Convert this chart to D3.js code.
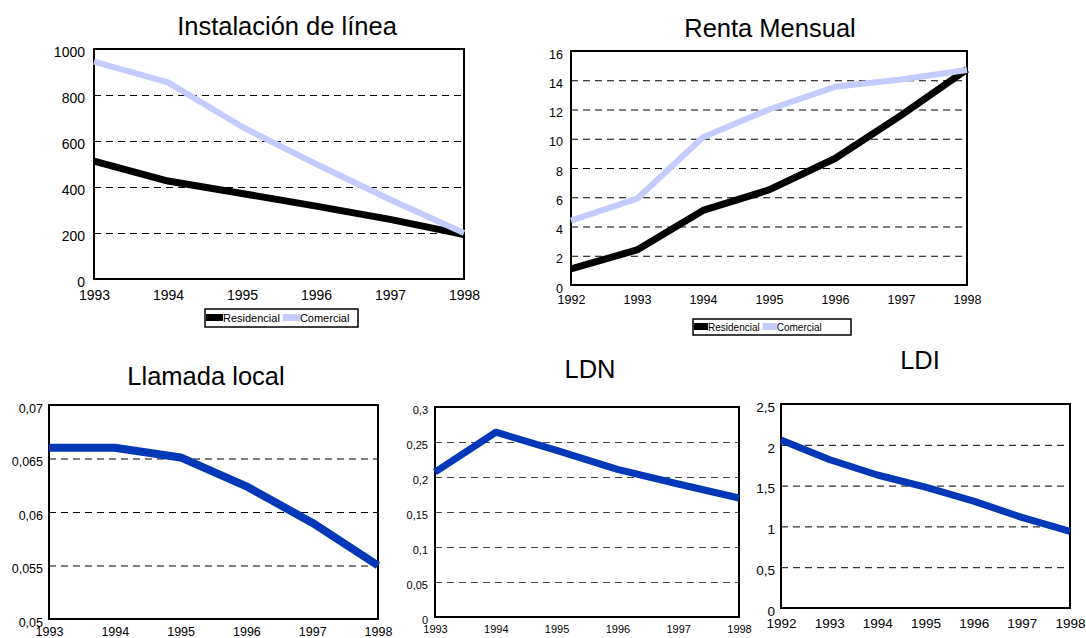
<!DOCTYPE html>
<html><head><meta charset="utf-8">
<script src="https://cdn.jsdelivr.net/npm/d3@7"></script>
<style>
html,body{margin:0;padding:0;background:#fff;}
svg{display:block;font-family:"Liberation Sans",Arial,sans-serif;}
</style></head>
<body>
<svg id="c" width="1086" height="638"></svg>
<script>
// ---- Data ----
const instYears = [1993, 1994, 1995, 1996, 1997, 1998];
const instResidencial = [513, 426, 372, 317, 259, 193];
const instComercial = [945, 855, 662, 500, 346, 200];
const instTicks = [0, 200, 400, 600, 800, 1000];

const rentaYears = [1992, 1993, 1994, 1995, 1996, 1997, 1998];
const rentaResidencial = [1.1, 2.4, 5.1, 6.5, 8.65, 11.6, 14.75];
const rentaComercial = [4.4, 5.9, 10.1, 12.0, 13.55, 14.05, 14.7];
const rentaTicks = [0, 2, 4, 6, 8, 10, 12, 14, 16];

const localYears = [1993, 1994, 1995, 1996, 1997, 1998];
const localValues = [0.066, 0.066, 0.0651, 0.0624, 0.059, 0.055];
const localTicks = [0.05, 0.055, 0.06, 0.065, 0.07];

const ldnYears = [1993, 1994, 1995, 1996, 1997, 1998];
const ldnValues = [0.207, 0.264, 0.238, 0.211, 0.19, 0.17];
const ldnTicks = [0, 0.05, 0.1, 0.15, 0.2, 0.25, 0.3];

const ldiYears = [1992, 1993, 1994, 1995, 1996, 1997, 1998];
const ldiValues = [2.06, 1.82, 1.63, 1.48, 1.31, 1.11, 0.94];
const ldiTicks = [0, 0.5, 1, 1.5, 2, 2.5];

const seriesNames = ["Residencial", "Comercial"];

// ---- Styles ----
const BLACK = "#000000", LAVENDER = "#c3cbff", BLUE = "#0038b8";
const loc = d3.formatLocale({decimal: ",", thousands: ".", grouping: [3], currency: ["", ""]});
const fmt = v => loc.format("")(+v.toPrecision(6));

const svg = d3.select("#c");

function drawChart(cfg) {
  const g = svg.append("g");
  const x = d3.scaleLinear().domain(d3.extent(cfg.years)).range([cfg.left, cfg.right]);
  const y = d3.scaleLinear().domain(d3.extent(cfg.ticks)).range([cfg.bottom, cfg.top]);

  // gridlines
  const inner = cfg.ticks.slice(1, -1);
  g.append("g")
    .attr("transform", `translate(${cfg.left},0)`)
    .call(d3.axisLeft(y).tickValues(inner).tickSize(-(cfg.right - cfg.left)).tickFormat(""))
    .call(s => s.select(".domain").remove())
    .call(s => s.selectAll("line").attr("stroke", cfg.gridColor || "#000").attr("stroke-width", 1).attr("stroke-dasharray", "7,5"));

  // y axis labels
  g.append("g")
    .attr("transform", `translate(${cfg.left},0)`)
    .call(d3.axisLeft(y).tickValues(cfg.ticks).tickSize(0).tickPadding(cfg.yPad).tickFormat(fmt))
    .call(s => s.select(".domain").remove())
    .call(s => s.selectAll("text").attr("font-size", cfg.fs).attr("fill", "#000").attr("font-family", "Liberation Sans, Arial, sans-serif").attr("dy", "0.32em").attr("transform", "translate(0,3)"));

  // x axis labels
  g.append("g")
    .attr("transform", `translate(0,${cfg.bottom})`)
    .call(d3.axisBottom(x).tickValues(cfg.years).tickSize(0).tickPadding(cfg.xPad).tickFormat(d3.format("d")))
    .call(s => s.select(".domain").remove())
    .call(s => s.selectAll("text").attr("font-size", cfg.fs).attr("fill", "#000").attr("font-family", "Liberation Sans, Arial, sans-serif"));

  // frame
  g.append("rect")
    .attr("x", cfg.left).attr("y", cfg.top)
    .attr("width", cfg.right - cfg.left).attr("height", cfg.bottom - cfg.top)
    .attr("fill", "none").attr("stroke", "#000").attr("stroke-width", 2);

  // lines
  const line = d3.line().x((d, i) => x(cfg.years[i])).y(d => y(d));
  cfg.series.forEach(s => {
    g.append("path").datum(s.values)
      .attr("d", line).attr("fill", "none")
      .attr("stroke", s.color).attr("stroke-width", s.width)
      .attr("stroke-linejoin", "round").attr("stroke-linecap", "butt");
  });

  // title
  g.append("text").attr("x", cfg.titleX).attr("y", cfg.titleY)
    .attr("text-anchor", "middle").attr("font-size", 25.5).attr("fill", "#000")
    .text(cfg.title);

  // legend
  if (cfg.legend) {
    const L = cfg.legend;
    const lg = g.append("g");
    lg.append("rect").attr("x", L.x).attr("y", L.y).attr("width", L.w).attr("height", L.h)
      .attr("fill", "#fff").attr("stroke", "#000").attr("stroke-width", 1.5);
    let cx = L.x + 1;
    cfg.series.forEach((s, i) => {
      lg.append("rect").attr("x", cx).attr("y", L.y + L.h / 2 - 4).attr("width", L.sw).attr("height", 7)
        .attr("fill", s.color);
      const t = lg.append("text").attr("x", cx + L.sw).attr("y", L.y + L.h / 2 + L.fs * 0.36)
        .attr("font-size", L.fs).attr("fill", "#000").text(seriesNames[i]);
      cx += L.sw + t.node().getComputedTextLength() + L.gap;
    });
  }
}

drawChart({
  title: "Instalación de línea", titleX: 287, titleY: 35,
  years: instYears, ticks: instTicks,
  left: 94, right: 464, top: 49, bottom: 279, fs: 14, xPad: 11, yPad: 9,
  series: [{values: instResidencial, color: BLACK, width: 7}, {values: instComercial, color: LAVENDER, width: 6}],
  legend: {x: 205, y: 309, w: 153, h: 18, sw: 17, fs: 11, gap: 3}
});

drawChart({
  title: "Renta Mensual", titleX: 770, titleY: 37,
  years: rentaYears, ticks: rentaTicks,
  left: 571, right: 967, top: 51, bottom: 285, fs: 12.5, xPad: 10, yPad: 8,
  series: [{values: rentaResidencial, color: BLACK, width: 7}, {values: rentaComercial, color: LAVENDER, width: 6}],
  legend: {x: 693, y: 319, w: 158, h: 16, sw: 14, fs: 10, gap: 3}
});

drawChart({
  title: "Llamada local", titleX: 206, titleY: 385,
  years: localYears, ticks: localTicks,
  left: 49, right: 378, top: 405, bottom: 619, fs: 12.5, xPad: 8, yPad: 6,
  series: [{values: localValues, color: BLUE, width: 8}]
});

drawChart({
  title: "LDN", titleX: 590, titleY: 378,
  years: ldnYears, ticks: ldnTicks,
  left: 435, right: 739, top: 407, bottom: 617, fs: 11, xPad: 8, yPad: 7,
  gridColor: "#444",
  series: [{values: ldnValues, color: BLUE, width: 7}]
});

drawChart({
  title: "LDI", titleX: 920, titleY: 369,
  years: ldiYears, ticks: ldiTicks,
  left: 781, right: 1070, top: 404, bottom: 608, fs: 13.5, xPad: 10, yPad: 6,
  series: [{values: ldiValues, color: BLUE, width: 7}]
});
</script>
</body></html>
